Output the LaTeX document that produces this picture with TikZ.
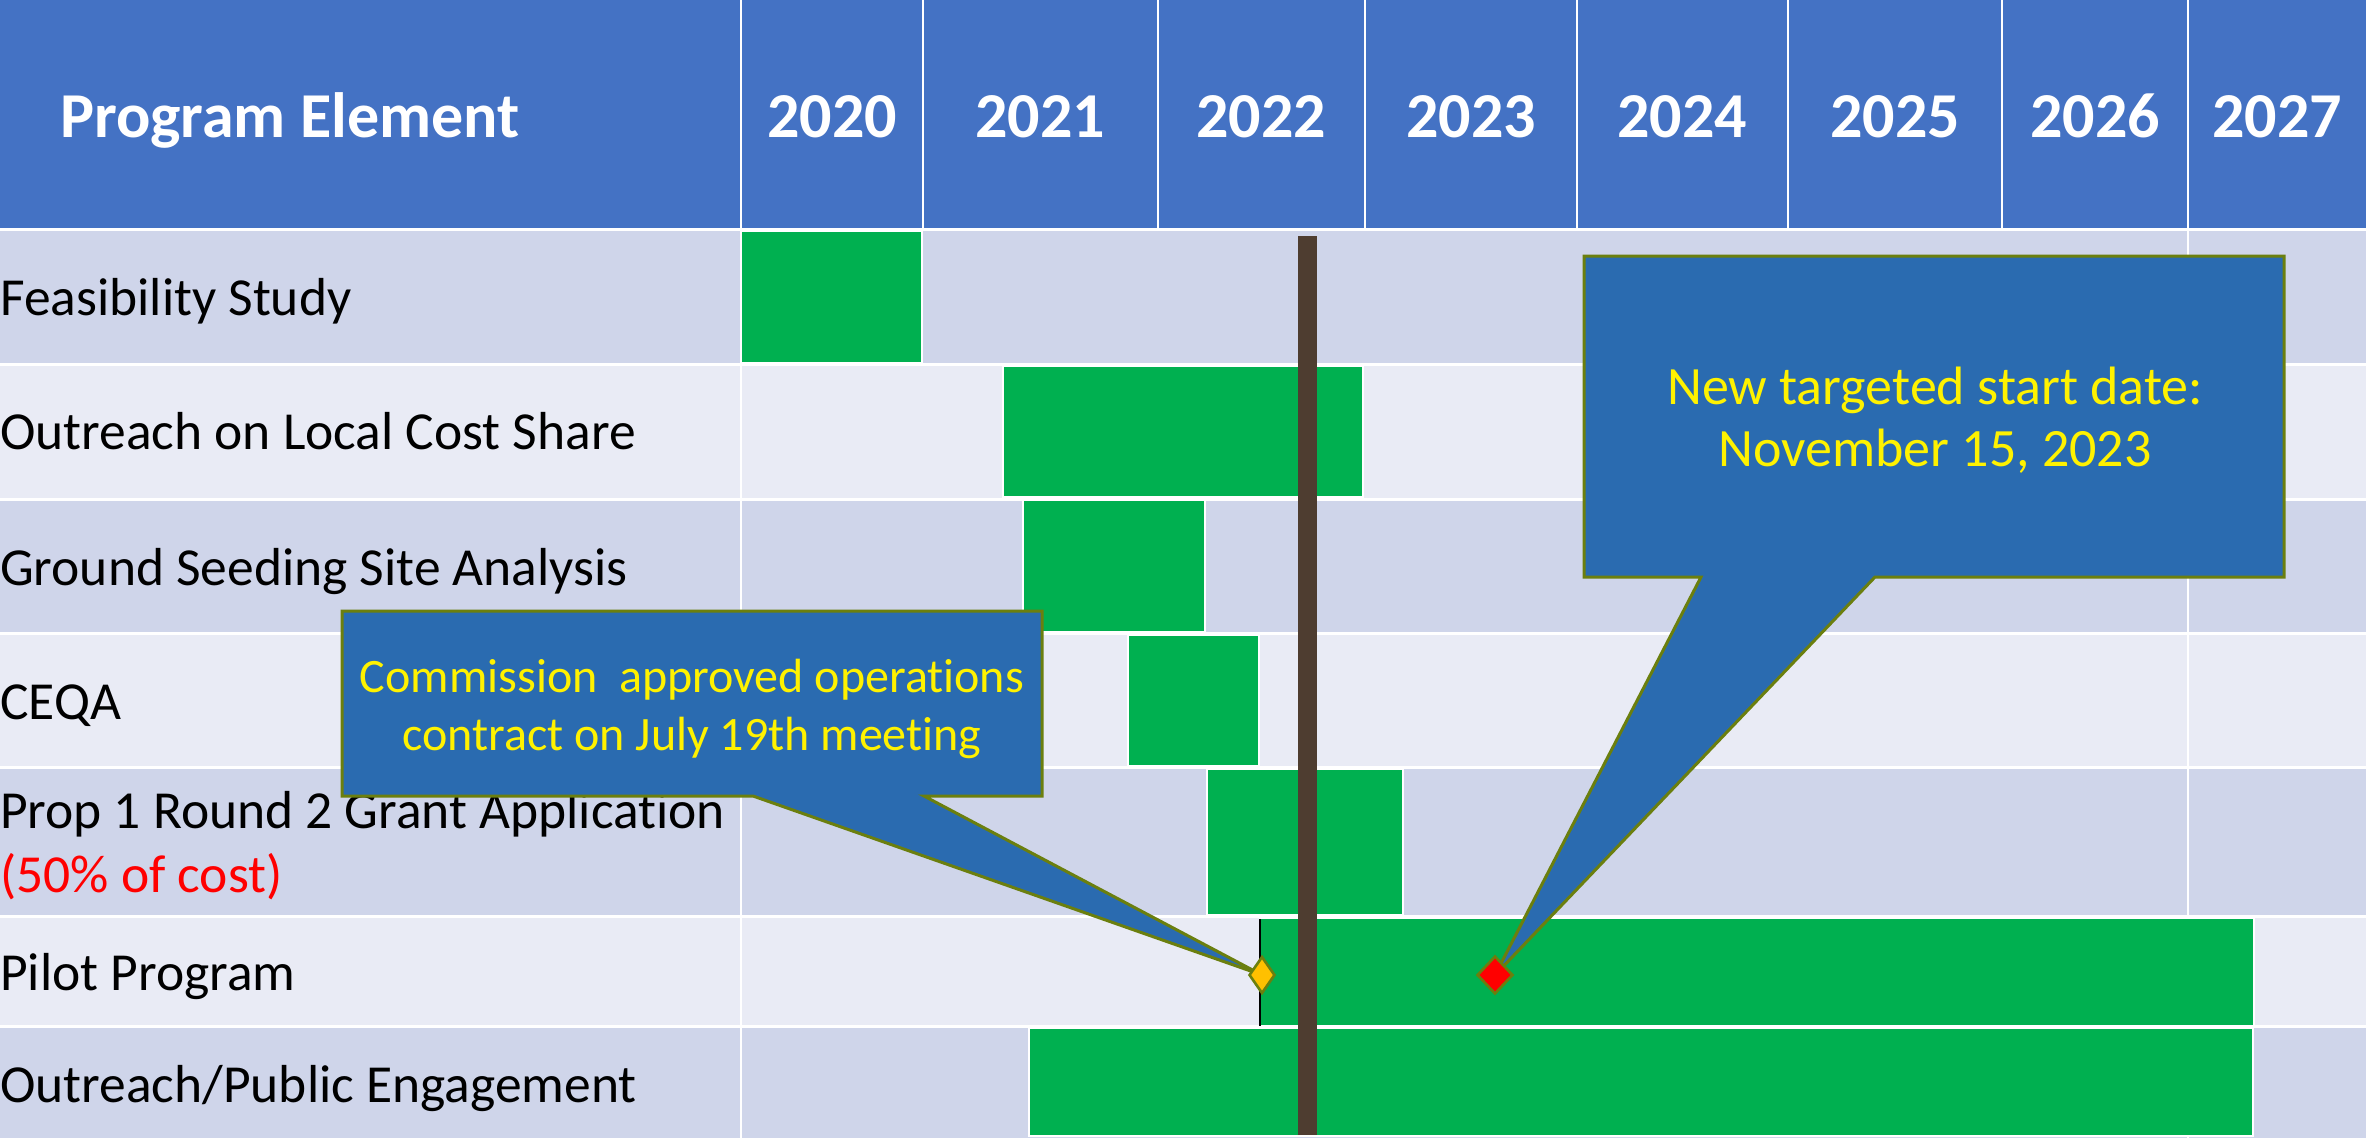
\documentclass[tikz,border=0pt]{standalone}
\usepackage{fontspec}
\setmainfont{Carlito}[Ligatures=NoCommon]
\usetikzlibrary{shapes.geometric}
\definecolor{hdr}{HTML}{4472C4}
\definecolor{rowA}{HTML}{CFD5EA}
\definecolor{rowB}{HTML}{E9EBF5}
\definecolor{barcol}{HTML}{00B050}
\definecolor{browncol}{HTML}{4E3D30}
\definecolor{callfill}{HTML}{2A6BB0}
\definecolor{callline}{HTML}{6B7F0E}
\definecolor{milestone}{HTML}{FFC000}
\begin{document}
\begin{tikzpicture}[x=1pt,y=-1pt,
  hdrtext/.style={text=white,font=\bfseries\fontsize{64}{72}\selectfont,inner sep=0pt},
  rowtext/.style={anchor=base west,inner sep=0pt,font=\fontsize{53.5}{62}\selectfont},
  ganttbar/.style={fill=barcol,draw=white,line width=2pt},
  callout/.style={fill=callfill,draw=callline,line width=3pt,line join=miter},
  calltext/.style={text=yellow,anchor=base,inner sep=0pt},
  milemark/.style={diamond,draw=callline,line width=2.6pt,inner sep=0pt}
]
\useasboundingbox (0,0) rectangle (2366,1138);
% header
\fill[hdr] (0,0) rectangle (2366,229);
% rows
\fill[rowA] (0,229) rectangle (2366,364);
\fill[rowB] (0,364) rectangle (2366,499);
\fill[rowA] (0,499) rectangle (2366,633);
\fill[rowB] (0,633) rectangle (2366,767);
\fill[rowA] (0,767) rectangle (2366,916);
\fill[rowB] (0,916) rectangle (2366,1026);
\fill[rowA] (0,1026) rectangle (2366,1138);
% white grid lines
\foreach \yy in {229,364,499,633,767,916,1026}
  \draw[white,line width=3pt] (0,\yy) -- (2366,\yy);
\foreach \xx in {741,923,1158,1365,1577,1788,2002,2188}
  \draw[white,line width=2pt] (\xx,0) -- (\xx,229);
\foreach \xx in {741,2188}
  \draw[white,line width=2pt] (\xx,229) -- (\xx,1138);
% header texts
\node[hdrtext,anchor=base west] (hpe) at (60,137) {Program Element};
\node[hdrtext,anchor=base] (y20) at (832,137) {2020};
\node[hdrtext,anchor=base] (y21) at (1040,137) {2021};
\node[hdrtext,anchor=base] (y22) at (1261,137) {2022};
\node[hdrtext,anchor=base] (y23) at (1471,137) {2023};
\node[hdrtext,anchor=base] (y24) at (1682,137) {2024};
\node[hdrtext,anchor=base] (y25) at (1895,137) {2025};
\node[hdrtext,anchor=base] (y26) at (2095,137) {2026};
\node[hdrtext,anchor=base] (y27) at (2277,137) {2027};
% row labels
\node[rowtext] (r1) at (0,315) {Feasibility Study};
\node[rowtext] (r2) at (0,449) {Outreach on Local Cost Share};
\node[rowtext] (r3) at (0,585) {Ground Seeding Site Analysis};
\node[rowtext] (r4) at (0,719) {CEQA};
\node[rowtext] (r5) at (0,828) {Prop 1 Round 2 Grant Application};
\node[rowtext,text=red] (r5b) at (0,892) {(50\% of cost)};
\node[rowtext] (r6) at (0,990) {Pilot Program};
\node[rowtext] (r7) at (0,1102) {Outreach/Public Engagement};
% gantt bars
\draw[ganttbar] (741,231) rectangle (922,363);
\draw[ganttbar] (1003,366) rectangle (1363,497);
\draw[ganttbar] (1023,500) rectangle (1205,632);
\draw[ganttbar] (1128,635) rectangle (1259,766);
\draw[ganttbar] (1207,769) rectangle (1403,915);
\draw[ganttbar] (1260,918) rectangle (2254,1026);
\draw[ganttbar] (1029,1028) rectangle (2253,1136);
\draw[black,line width=2pt] (1260,919) -- (1260,1026);
% status line
\fill[browncol] (1298,236) rectangle (1317,1135);
% milestones (positions)
\coordinate (m1) at (1262,975);
\coordinate (m2) at (1495,975);
% callout 1
\draw[callout] (342,611) -- (1042,611) -- (1042,796) -- (924,796) -- (m1) -- (753,796) -- (342,796) -- cycle;
\node[calltext,font=\fontsize{48}{58}\selectfont] (c1a) at (692,692) {Commission\ \ approved operations};
\node[calltext,font=\fontsize{48}{58}\selectfont] (c1b) at (692,750) {contract on July 19th meeting};
% callout 2
\draw[callout] (1584,256) -- (2284,256) -- (2284,577) -- (1875,577) -- (m2) -- (1701,577) -- (1584,577) -- cycle;
\node[calltext,font=\fontsize{54}{64}\selectfont] (c2a) at (1935,404) {New targeted start date:};
\node[calltext,font=\fontsize{54}{64}\selectfont] (c2b) at (1935,466) {November 15, 2023};
% diamonds
\node[milemark,fill=milestone,minimum width=26pt,minimum height=37pt] (d1) at (m1) {};
\node[milemark,fill=red,minimum width=36pt,minimum height=38pt] (d2) at (m2) {};
\end{tikzpicture}
\end{document}
